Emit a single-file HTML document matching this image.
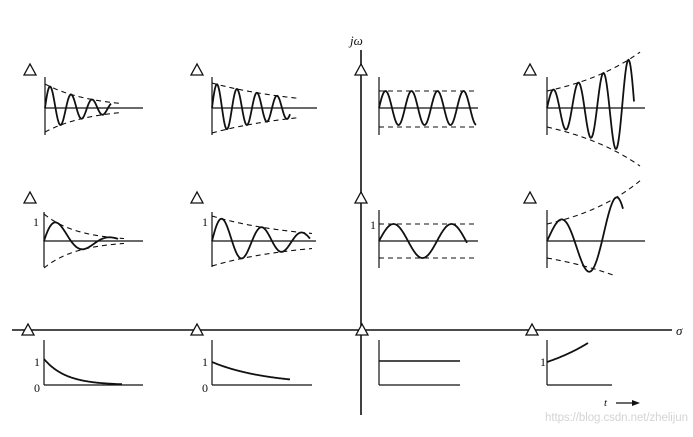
<!DOCTYPE html>
<html><head><meta charset="utf-8"><style>
html,body{margin:0;padding:0;background:#fff;}
svg{display:block}
text{font-family:"Liberation Serif",serif;fill:#111}
</style></head><body>
<svg id="s" width="693" height="437" viewBox="0 0 693 437" xmlns="http://www.w3.org/2000/svg">
<g stroke="#111" fill="none">
<line x1="12" y1="330" x2="672" y2="330" stroke-width="1.6"/>
<line x1="361" y1="50" x2="361" y2="415" stroke-width="1.6"/>
</g>
<text x="350" y="45" font-size="13" font-style="italic">jω</text>
<text x="676" y="335" font-size="13" font-style="italic">σ</text>
<text x="604" y="406" font-size="11" font-style="italic">t</text>
<line x1="616" y1="403" x2="636" y2="403" stroke="#111" stroke-width="1.3"/>
<polygon points="640,403 632,400 632,406" fill="#111"/>
<text x="545" y="421" font-size="11.5" textLength="143" style="font-family:'Liberation Sans',sans-serif;fill:#d4d4d4">https://blog.csdn.net/zhelijun</text>
<g font-size="12">
<text x="33" y="226">1</text><text x="202" y="226">1</text><text x="370" y="229">1</text>
<text x="34" y="366">1</text><text x="34" y="392">0</text>
<text x="202" y="366">1</text><text x="202" y="392">0</text>
<text x="540" y="366">1</text>
</g>
<g id="g" stroke="#111" fill="none"></g>
</svg>
<script>
var g=document.getElementById('g'),out='';
function line(x1,y1,x2,y2,w,d){out+='<line x1="'+x1+'" y1="'+y1+'" x2="'+x2+'" y2="'+y2+'" stroke-width="'+(w||1.2)+'"'+(d?' stroke-dasharray="5,4"':'')+'/>';}
function curve(f,x0,x1,w,d){var p=[];for(var x=x0;x<=x1;x+=0.5)p.push(x.toFixed(1)+','+f(x-x0).toFixed(1));out+='<polyline points="'+p.join(' ')+'" stroke-width="'+(w||1.8)+'"'+(d?' stroke-dasharray="5,4"':'')+'/>';}
function tri(x,y){out+='<polygon points="'+(x-6)+','+(y+5)+' '+(x+6)+','+(y+5)+' '+x+','+(y-6)+'" fill="#fff" stroke-width="1.3"/>';}
function osc(ax,by,len,A0,k,P,end,envEnd){line(ax,by-31,ax,by+27);line(ax,by,ax+len,by);
curve(function(t){return by-A0*Math.exp(k*t)*Math.sin(2*Math.PI*t/P)},ax,ax+end);
curve(function(t){return by-A0*Math.exp(k*t)},ax,ax+envEnd,1.1,1);
curve(function(t){return by+A0*Math.exp(k*t)},ax,ax+envEnd,1.1,1);}
osc(45,108,98,24,-0.022,21,66,75);
osc(212,108,105,25,-0.011,20,78,86);
line(379,77,379,135);line(379,108,478,108);line(379,91,478,91,1.1,1);line(379,127,478,127,1.1,1);
curve(function(t){return 108-17*Math.sin(2*Math.PI*t/26)},379,476);
line(547,77,547,135);line(547,108,645,108);
curve(function(t){return 108-17*Math.exp(0.0128*t)*Math.sin(2*Math.PI*t/25)},547,634);
curve(function(t){return 108-17*Math.exp(0.0128*t)},547,640,1.1,1);
curve(function(t){return 108+19*Math.exp(0.012*t)},547,640,1.1,1);
function osc2(ax,by,len,A0,k,P,end,envEnd){line(ax,by-29,ax,by+26);line(ax,by,ax+len,by);
curve(function(t){return by-A0*Math.exp(k*t)*Math.sin(2*Math.PI*t/P)},ax,ax+end);
curve(function(t){return by-A0*Math.exp(k*t)},ax,ax+envEnd,1.1,1);
curve(function(t){return by+A0*Math.exp(k*t)},ax,ax+envEnd,1.1,1);}
osc2(44,241,99,27,-0.03,54,74,80);
osc2(212,241,104,25,-0.012,40,98,100);
line(379,210,379,268);line(379,241,478,241);line(379,224,478,224,1.1,1);line(379,258,478,258,1.1,1);
curve(function(t){return 241-17*Math.sin(2*Math.PI*t/58)},379,467);
line(547,210,547,268);line(547,241,645,241);
curve(function(t){return 241-18*Math.exp(0.0128*t)*Math.sin(2*Math.PI*t/55)},547,623);
curve(function(t){return 241-17*Math.exp(0.0136*t)},547,640,1.1,1);
curve(function(t){return 241+17*Math.exp(0.0105*t)},547,616,1.1,1);
line(44,340,44,385);line(44,385,143,385);curve(function(t){return 385-26*Math.exp(-t/22)},44,122);
line(212,340,212,385);line(212,385,312,385);curve(function(t){return 385-23*Math.exp(-t/55)},212,290);
line(379,340,379,385);line(379,385,460,385);line(379,361,460,361,1.6);
line(547,340,547,385);line(547,385,612,385);curve(function(t){return 385-23*Math.exp(0.0147*t)},547,588);
[[30,70],[197,70],[361,70],[530,70],[30,198],[197,198],[361,198],[530,198],[28,330],[197,330],[362,330],[532,330]].forEach(function(p){tri(p[0],p[1]);});
g.innerHTML=out;
</script>
</body></html>
